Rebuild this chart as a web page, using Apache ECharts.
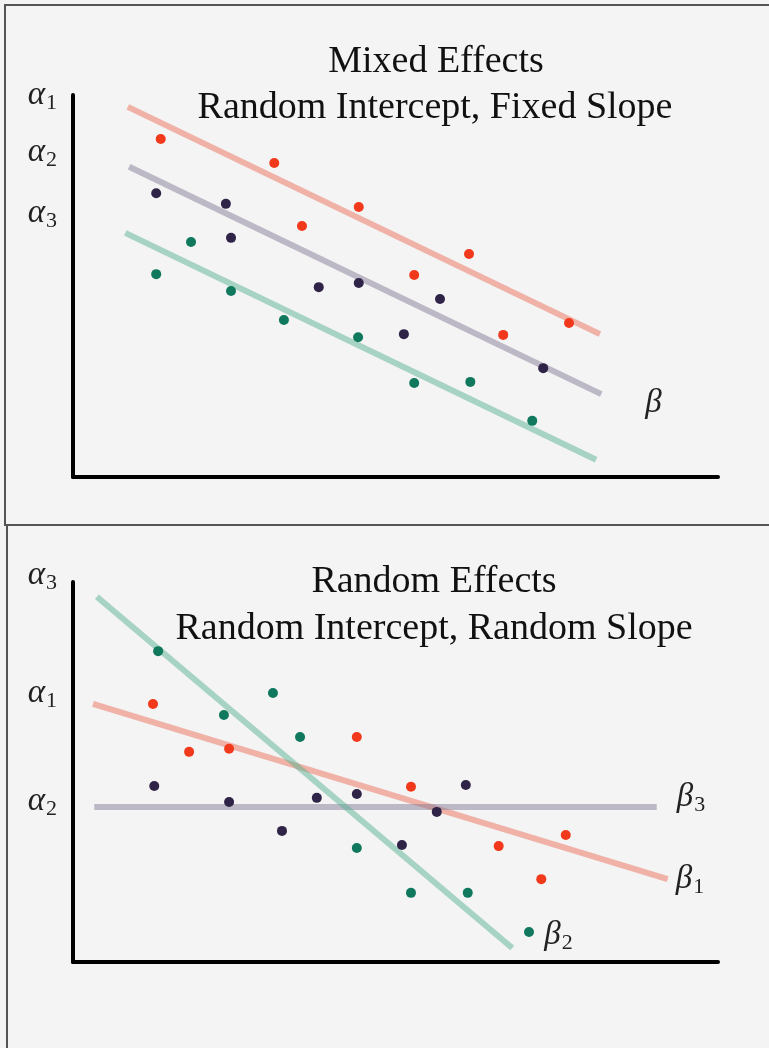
<!DOCTYPE html>
<html>
<head>
<meta charset="utf-8">
<script src="https://cdn.jsdelivr.net/npm/echarts@6/dist/echarts.min.js"></script>
<style>
  html, body { margin: 0; padding: 0; background: #f4f4f4; }
  #chart { width: 769px; height: 1048px; }
</style>
</head>
<body>
<div id="chart"></div>
<script>
// top panel - mixed effects (random intercept, fixed slope)
const mixedRed = [[13.6, 88.5], [31.2, 82.2], [35.5, 65.7], [44.3, 70.7], [52.9, 52.9], [61.4, 58.4], [66.7, 37.2], [76.9, 40.3]];
const mixedPurple = [[12.9, 74.3], [23.7, 71.5], [24.5, 62.6], [38.1, 49.7], [44.3, 50.8], [51.3, 37.4], [56.9, 46.6], [72.9, 28.5]];
const mixedTeal = [[12.9, 53.1], [18.3, 61.5], [24.5, 48.7], [32.7, 41.1], [44.2, 36.6], [52.9, 24.6], [61.6, 24.9], [71.2, 14.7]];
const mixedRedFit = [[8.5, 96.9], [81.7, 37.4]];
const mixedPurpleFit = [[8.7, 81.2], [81.9, 21.7]];
const mixedTealFit = [[8.1, 63.9], [81.1, 4.5]];
const mixedAlpha = [100, 85.1, 69.1];
const mixedAlphaSub = ['1', '2', '3'];

// bottom panel - random effects (random intercept, random slope)
const randomRed = [[12.4, 67.9], [18.0, 55.3], [24.2, 56.1], [44.0, 59.2], [52.4, 46.1], [66.0, 30.5], [72.6, 21.8], [76.4, 33.4]];
const randomPurple = [[12.6, 46.3], [24.2, 42.1], [32.4, 34.5], [37.8, 43.2], [44.0, 44.2], [51.0, 30.8], [56.4, 39.5], [60.9, 46.6]];
const randomTeal = [[13.2, 81.8], [23.4, 65.0], [31.0, 70.8], [35.2, 59.2], [44.0, 30.0], [52.4, 18.2], [61.2, 18.2], [70.7, 7.9]];
const randomRedFit = [[3.1, 67.9], [92.2, 21.8]];
const randomPurpleFit = [[3.3, 40.8], [90.5, 40.8]];
const randomTealFit = [[3.7, 96.1], [68.1, 3.7]];
const randomAlpha = [100, 70.8, 42.4];
const randomAlphaSub = ['3', '1', '2'];

const dotColors = ['#f2391b', '#2f2348', '#10785d'];
const fitColors = ['#eb6f5a', '#847c98', '#58b292'];
const serif = '"Liberation Serif", "DejaVu Serif", serif';

const greek = {
  g: { fontFamily: serif, fontStyle: 'italic', fontSize: 33, color: '#222' },
  s: { fontFamily: serif, fontSize: 22, color: '#222', padding: [16, 0, 0, 1] },
  gu: { fontFamily: serif, fontStyle: 'italic', fontSize: 33, color: '#222', padding: [0, 0, 14, 0] },
  su: { fontFamily: serif, fontSize: 22, color: '#222', padding: [2, 0, 0, 1] }
};

function alphaAxis(gridIndex, levels, subs, raised) {
  return {
    type: 'value', gridIndex: gridIndex, min: 0, max: 100,
    splitLine: { show: false },
    axisTick: { show: false },
    axisLine: { show: true, lineStyle: { color: '#000', width: 4 } },
    axisLabel: {
      show: true,
      customValues: levels,
      margin: 16,
      rich: greek,
      formatter: function (v) {
        const i = levels.findIndex(l => Math.abs(l - v) < 0.01);
        if (i < 0) return '';
        if (raised && i === 0) return '{gu|α}{su|' + subs[i] + '}';
        return '{g|α}{s|' + subs[i] + '}';
      }
    }
  };
}

function plainX(gridIndex) {
  return {
    type: 'value', gridIndex: gridIndex, min: 0, max: 100,
    splitLine: { show: false },
    axisTick: { show: false },
    axisLabel: { show: false },
    axisLine: { show: true, onZero: false, lineStyle: { color: '#000', width: 4 } }
  };
}

function dots(data, k, gridIndex) {
  return {
    type: 'scatter', xAxisIndex: gridIndex, yAxisIndex: gridIndex,
    data: data, symbolSize: 10, z: 5,
    itemStyle: { color: dotColors[k], opacity: 1 }
  };
}

function fit(data, k, gridIndex, tag) {
  const d = data.map((p, i) => {
    if (tag && i === data.length - 1) {
      return {
        value: p,
        label: {
          show: true, position: 'right', distance: tag.distance, offset: tag.offset,
          formatter: tag.text, rich: greek
        }
      };
    }
    return p;
  });
  return {
    type: 'line', xAxisIndex: gridIndex, yAxisIndex: gridIndex,
    data: d, showSymbol: true, symbol: 'circle', symbolSize: 0.1, z: 3,
    itemStyle: { color: 'rgba(0,0,0,0)' },
    lineStyle: { color: fitColors[k], width: 6, opacity: 0.5 },
    emphasis: { disabled: true }
  };
}

const titleStyle = { fontFamily: serif, fontSize: 38, fill: '#111', textAlign: 'center', textVerticalAlign: 'middle' };

const chart = echarts.init(document.getElementById('chart'));
chart.setOption({
  backgroundColor: '#f4f4f4',
  animation: false,
  grid: [
    { left: 73, top: 95, width: 645, height: 382 },
    { left: 73, top: 582, width: 645, height: 380 }
  ],
  xAxis: [plainX(0), plainX(1)],
  yAxis: [
    alphaAxis(0, mixedAlpha, mixedAlphaSub, false),
    alphaAxis(1, randomAlpha, randomAlphaSub, true)
  ],
  graphic: [
    { type: 'rect', shape: { x: 5, y: 5, width: 800, height: 520 }, style: { fill: 'none', stroke: '#555', lineWidth: 2 }, z: -1 },
    { type: 'line', shape: { x1: 7, y1: 525, x2: 7, y2: 1060 }, style: { stroke: '#555', lineWidth: 2 }, z: -1 },
    { type: 'text', x: 436, y: 62, style: Object.assign({ text: 'Mixed Effects' }, titleStyle) },
    { type: 'text', x: 435, y: 108, style: Object.assign({ text: 'Random Intercept, Fixed Slope' }, titleStyle) },
    { type: 'text', x: 434, y: 582, style: Object.assign({ text: 'Random Effects' }, titleStyle) },
    { type: 'text', x: 434, y: 629, style: Object.assign({ text: 'Random Intercept, Random Slope' }, titleStyle) }
  ],
  series: [
    fit(mixedRedFit, 0, 0),
    fit(mixedPurpleFit, 1, 0, { text: '{g|β}', distance: 44, offset: [0, 9] }),
    fit(mixedTealFit, 2, 0),
    dots(mixedRed, 0, 0),
    dots(mixedPurple, 1, 0),
    dots(mixedTeal, 2, 0),
    fit(randomRedFit, 0, 1, { text: '{g|β}{s|1}', distance: 8, offset: [0, 0] }),
    fit(randomPurpleFit, 1, 1, { text: '{g|β}{s|3}', distance: 20, offset: [0, -10] }),
    fit(randomTealFit, 2, 1, { text: '{g|β}{s|2}', distance: 32, offset: [0, -13] }),
    dots(randomRed, 0, 1),
    dots(randomPurple, 1, 1),
    dots(randomTeal, 2, 1)
  ]
});
</script>
</body>
</html>
